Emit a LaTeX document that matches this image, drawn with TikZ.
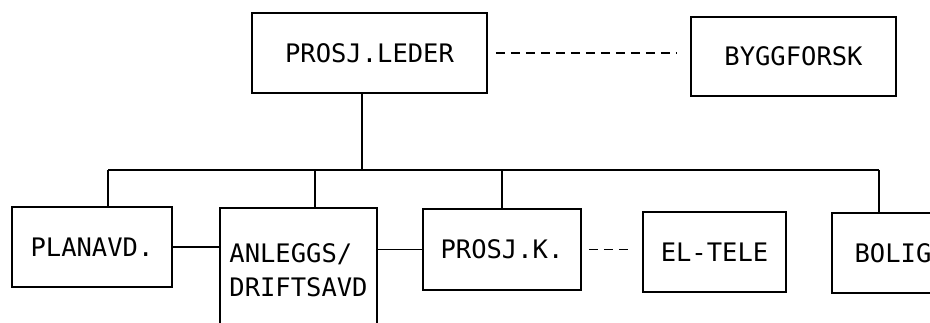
\documentclass[tikz,border=0pt]{standalone}
\usepackage{fontspec}
\setmonofont{DejaVu Sans Mono}
\begin{document}
\begin{tikzpicture}[x=1pt, y=-1pt, line width=1.6pt,
    box/.style={draw, rectangle, inner sep=0pt, align=left,
        font=\ttfamily\fontsize{25.5}{34}\selectfont},
    link/.style={dash pattern=on 9pt off 6pt}]

    % Canvas of the scanned page
    \useasboundingbox (0,0) rectangle (930,322);
    \clip (0,0) rectangle (930,322);

    % Top level boxes
    \node[box, minimum width=235pt, minimum height=80pt] (leder) at (369.5,53) {PROSJ.LEDER};
    \node[box, minimum width=205pt, minimum height=79pt] (bygg) at (793.5,56.5) {BYGGFORSK};

    % Department boxes
    \node[box, minimum width=160pt, minimum height=80pt] (plan) at (92,247) {PLANAVD.};
    \node[box, minimum width=157pt, minimum height=124pt] (anl) at (298.5,270) {ANLEGGS/\\DRIFTSAVD};
    \node[box, minimum width=158pt, minimum height=81pt] (pk) at (502,249.5) {PROSJ.K.};
    \node[box, minimum width=143pt, minimum height=80pt] (el) at (714.5,252) {EL-TELE};
    \node[box, minimum width=122pt, minimum height=80pt] (bolig) at (893,253) {BOLIG};

    % Bus line under the project leader
    \coordinate (top) at (362,170);
    \coordinate (busL) at (108,170);
    \coordinate (busR) at (879,170);
    \coordinate (d2) at (315,170);
    \coordinate (d3) at (502,170);
    \draw (top |- leder.south) -- (top);
    \draw (busL) -- (busR);
    \foreach \c/\n in {busL/plan, d2/anl, d3/pk, busR/bolig}
        \draw (\c) -- (\c |- \n.north);

    % Solid links between departments
    \draw (plan.east) -- (plan.east -| anl.west);
    \draw (pk.west -| anl.east) -- (pk.west);

    % Dashed links
    \draw[link, shorten <=8pt, shorten >=13pt] (leder.east) -- (leder.east -| bygg.west);
    \draw[link, shorten <=7pt, shorten >=12pt] (pk.east) -- (pk.east -| el.west);

\end{tikzpicture}
\end{document}
